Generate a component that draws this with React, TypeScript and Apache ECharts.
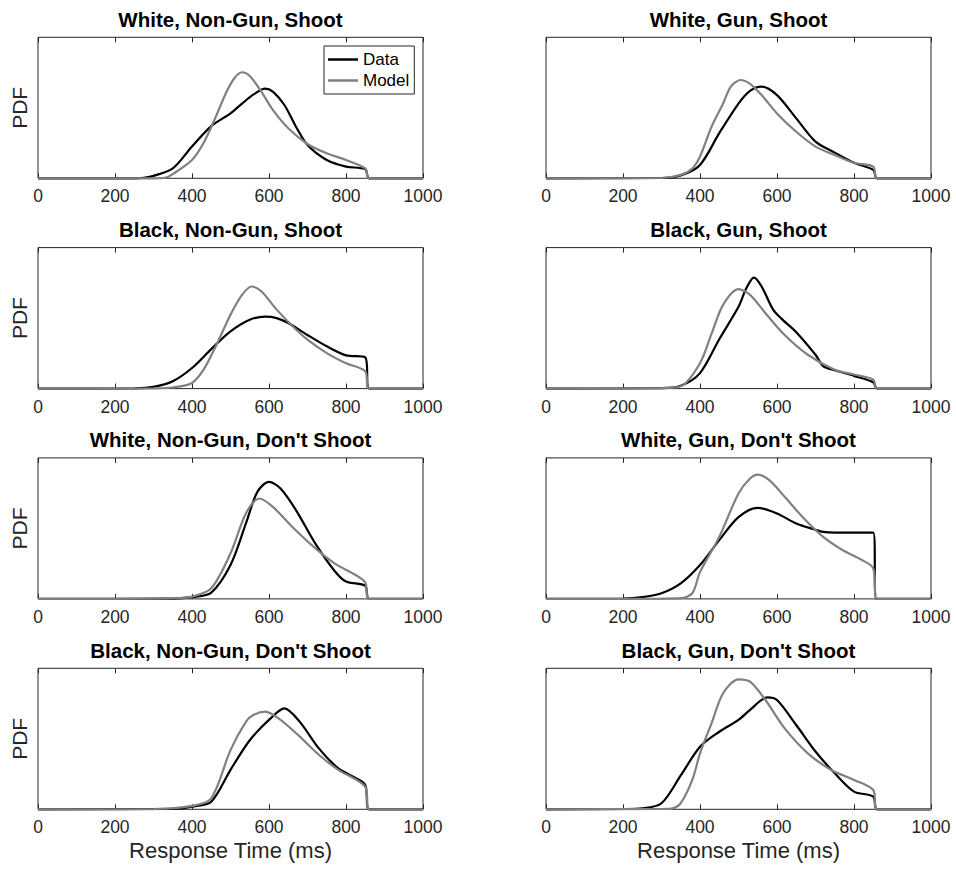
import React, { useEffect, useRef } from "react";
import * as echarts from "echarts";

type Pt = [number, number];

const FONT = "'Liberation Sans', Arial, Helvetica, sans-serif";

const xTicks = [0, 200, 400, 600, 800, 1000];
const legendNames = ["Data", "Model"];
const panelTitles = [
  "White, Non-Gun, Shoot",
  "White, Gun, Shoot",
  "Black, Non-Gun, Shoot",
  "Black, Gun, Shoot",
  "White, Non-Gun, Don't Shoot",
  "White, Gun, Don't Shoot",
  "Black, Non-Gun, Don't Shoot",
  "Black, Gun, Don't Shoot",
];

// PDF values (relative units, axis 0..1), response time in ms
const wnsData: Pt[] = [[0, 0], [250, 0], [275, 0.004], [300, 0.017], [350, 0.07], [400, 0.225], [450, 0.37], [500, 0.46], [530, 0.53], [560, 0.595], [590, 0.636], [610, 0.615], [640, 0.52], [670, 0.366], [700, 0.236], [750, 0.13], [800, 0.083], [850, 0.064], [860, 0], [1000, 0]];
const wnsModel: Pt[] = [[0, 0], [300, 0], [330, 0.004], [350, 0.03], [400, 0.13], [430, 0.25], [460, 0.425], [490, 0.615], [510, 0.71], [530, 0.752], [550, 0.726], [580, 0.615], [610, 0.485], [650, 0.355], [700, 0.243], [750, 0.177], [800, 0.13], [850, 0.07], [860, 0], [1000, 0]];

const wgsData: Pt[] = [[0, 0], [300, 0.002], [350, 0.02], [400, 0.095], [450, 0.32], [500, 0.53], [530, 0.62], [560, 0.65], [600, 0.59], [650, 0.425], [700, 0.26], [750, 0.182], [800, 0.11], [850, 0.06], [860, 0], [1000, 0]];
const wgsModel: Pt[] = [[0, 0], [300, 0.002], [350, 0.024], [380, 0.07], [400, 0.155], [430, 0.366], [460, 0.53], [480, 0.65], [505, 0.697], [530, 0.67], [560, 0.59], [600, 0.46], [650, 0.33], [700, 0.225], [750, 0.165], [800, 0.11], [850, 0.083], [860, 0], [1000, 0]];

const bnsData: Pt[] = [[0, 0], [250, 0.002], [300, 0.012], [350, 0.052], [400, 0.146], [450, 0.28], [500, 0.405], [550, 0.488], [590, 0.51], [620, 0.5], [650, 0.465], [700, 0.38], [750, 0.3], [800, 0.236], [850, 0.222], [860, 0], [1000, 0]];
const bnsModel: Pt[] = [[0, 0], [300, 0.002], [350, 0.008], [400, 0.04], [430, 0.134], [460, 0.29], [500, 0.524], [530, 0.665], [555, 0.724], [580, 0.69], [620, 0.56], [660, 0.446], [700, 0.347], [750, 0.252], [800, 0.18], [850, 0.123], [860, 0], [1000, 0]];

const bgsData: Pt[] = [[0, 0], [300, 0.003], [350, 0.02], [400, 0.11], [450, 0.35], [500, 0.58], [520, 0.71], [540, 0.787], [560, 0.724], [590, 0.56], [610, 0.5], [650, 0.4], [700, 0.24], [720, 0.16], [750, 0.13], [800, 0.09], [850, 0.045], [860, 0], [1000, 0]];
const bgsModel: Pt[] = [[0, 0], [300, 0.003], [350, 0.016], [400, 0.18], [430, 0.39], [460, 0.594], [500, 0.705], [530, 0.665], [570, 0.535], [620, 0.38], [680, 0.24], [750, 0.134], [800, 0.1], [850, 0.064], [860, 0], [1000, 0]];

const wndsData: Pt[] = [[0, 0], [350, 0.002], [400, 0.012], [450, 0.045], [500, 0.24], [540, 0.535], [570, 0.76], [600, 0.83], [630, 0.783], [670, 0.63], [720, 0.394], [770, 0.2], [800, 0.123], [850, 0.092], [860, 0], [1000, 0]];
const wndsModel: Pt[] = [[0, 0], [300, 0.002], [350, 0.005], [400, 0.016], [450, 0.075], [500, 0.323], [540, 0.606], [575, 0.712], [610, 0.653], [660, 0.512], [720, 0.36], [770, 0.252], [820, 0.177], [850, 0.116], [860, 0], [1000, 0]];

const wgdsData: Pt[] = [[0, 0], [200, 0.002], [250, 0.012], [300, 0.04], [350, 0.11], [400, 0.24], [450, 0.417], [500, 0.58], [550, 0.646], [600, 0.606], [650, 0.535], [700, 0.49], [720, 0.475], [750, 0.47], [800, 0.47], [850, 0.47], [858, 0], [1000, 0]];
const wgdsModel: Pt[] = [[0, 0], [300, 0.002], [350, 0.005], [380, 0.04], [400, 0.19], [450, 0.44], [500, 0.748], [530, 0.854], [550, 0.882], [580, 0.842], [620, 0.724], [670, 0.57], [720, 0.44], [770, 0.347], [820, 0.277], [850, 0.217], [860, 0], [1000, 0]];

const bndsData: Pt[] = [[0, 0], [350, 0.003], [400, 0.019], [450, 0.054], [500, 0.28], [550, 0.49], [600, 0.634], [640, 0.716], [680, 0.62], [730, 0.43], [780, 0.29], [820, 0.23], [850, 0.173], [860, 0], [1000, 0]];
const bndsModel: Pt[] = [[0, 0], [300, 0.002], [400, 0.024], [450, 0.078], [500, 0.42], [540, 0.62], [560, 0.67], [590, 0.693], [630, 0.634], [680, 0.515], [730, 0.385], [780, 0.28], [850, 0.16], [860, 0], [1000, 0]];

const bgdsData: Pt[] = [[0, 0], [200, 0.002], [250, 0.007], [300, 0.043], [350, 0.24], [400, 0.444], [450, 0.55], [500, 0.634], [530, 0.705], [575, 0.794], [600, 0.775], [650, 0.598], [700, 0.41], [750, 0.255], [800, 0.125], [850, 0.09], [860, 0], [1000, 0]];
const bgdsModel: Pt[] = [[0, 0], [300, 0.002], [330, 0.007], [350, 0.043], [380, 0.208], [400, 0.397], [430, 0.61], [460, 0.823], [500, 0.922], [530, 0.905], [570, 0.775], [620, 0.574], [680, 0.397], [740, 0.28], [800, 0.208], [850, 0.137], [860, 0], [1000, 0]];

const panelData: Pt[][] = [wnsData, wgsData, bnsData, bgsData, wndsData, wgdsData, bndsData, bgdsData];
const panelModel: Pt[][] = [wnsModel, wgsModel, bnsModel, bgsModel, wndsModel, wgdsModel, bndsModel, bgdsModel];

const GRID_LEFT = [38, 546];
const GRID_TOP = [37.3, 247.6, 457.9, 668.3];
const GRID_W = 385;
const GRID_H = 141;
const AXIS_COLOR = "#262626";

function buildOption() {
  const grid: any[] = [];
  const xAxis: any[] = [];
  const yAxis: any[] = [];
  const series: any[] = [];
  const title: any[] = [];

  panelTitles.forEach((t, i) => {
    const col = i % 2;
    const row = Math.floor(i / 2);
    const left = GRID_LEFT[col];
    const top = GRID_TOP[row];
    grid.push({
      left,
      top,
      width: GRID_W,
      height: GRID_H,
      show: true,
      borderColor: AXIS_COLOR,
      borderWidth: 1,
      backgroundColor: "#fff",
      containLabel: false,
    });
    title.push({
      text: t,
      left: left + GRID_W / 2,
      top: top - 29,
      textAlign: "center",
      padding: 0,
      textStyle: { fontFamily: FONT, fontSize: 20.5, fontWeight: "bold", color: "#000", lineHeight: 22 },
    });
    const isBottom = row === 3;
    xAxis.push({
      type: "value",
      gridIndex: i,
      position: "bottom",
      min: 0,
      max: 1000,
      interval: 200,
      axisLine: { show: false },
      axisTick: { show: true, inside: true, length: 5, lineStyle: { color: AXIS_COLOR, width: 1 } },
      axisLabel: {
        show: true,
        margin: 9,
        color: AXIS_COLOR,
        fontFamily: FONT,
        fontSize: 17.5,
        formatter: (v: number) => String(v),
      },
      splitLine: { show: false },
      name: isBottom ? "Response Time (ms)" : "",
      nameLocation: "middle",
      nameGap: 30,
      nameTextStyle: { fontFamily: FONT, fontSize: 22, color: AXIS_COLOR },
    });
    xAxis.push({
      type: "value",
      gridIndex: i,
      position: "top",
      min: 0,
      max: 1000,
      interval: 200,
      axisLine: { show: false },
      axisTick: { show: true, inside: true, length: 5, lineStyle: { color: AXIS_COLOR, width: 1 } },
      axisLabel: { show: false },
      splitLine: { show: false },
    });
    yAxis.push({
      type: "value",
      gridIndex: i,
      min: 0,
      max: 1,
      axisLine: { show: false },
      axisTick: { show: false },
      axisLabel: { show: false },
      splitLine: { show: false },
      name: col === 0 ? "PDF" : "",
      nameLocation: "middle",
      nameRotate: 90,
      nameGap: 8,
      nameTextStyle: { fontFamily: FONT, fontSize: 21, color: AXIS_COLOR },
    });
    series.push({
      name: legendNames[0],
      type: "line",
      xAxisIndex: i * 2,
      yAxisIndex: i,
      data: panelData[i],
      symbol: "none",
      smooth: 0.3,
      clip: false,
      lineStyle: { color: "#000000", width: 2.2 },
      itemStyle: { color: "#000000" },
      z: 3,
    });
    series.push({
      name: legendNames[1],
      type: "line",
      xAxisIndex: i * 2,
      yAxisIndex: i,
      data: panelModel[i],
      symbol: "none",
      smooth: 0.3,
      clip: false,
      lineStyle: { color: "#808080", width: 2.2 },
      itemStyle: { color: "#808080" },
      z: 4,
    });
  });

  return {
    animation: false,
    backgroundColor: "#fff",
    title,
    grid,
    xAxis,
    yAxis,
    series,
    legend: {
      show: true,
      data: legendNames.map((n) => ({ name: n, icon: "rect" })),
      orient: "vertical",
      left: 324,
      top: 46,
      padding: [5, 5, 5, 4],
      itemWidth: 30,
      itemHeight: 2.5,
      itemGap: 4,
      borderColor: AXIS_COLOR,
      borderWidth: 1,
      backgroundColor: "#fff",
      selectedMode: false,
      textStyle: { fontFamily: FONT, fontSize: 17, color: "#000", lineHeight: 17 },
      z: 10,
    },
  };
}

export default function App() {
  const ref = useRef<HTMLDivElement>(null);
  useEffect(() => {
    if (!ref.current) return;
    const chart = echarts.init(ref.current, undefined, { renderer: "svg" });
    chart.setOption(buildOption() as any);
    return () => chart.dispose();
  }, []);
  return (
    <div
      ref={ref}
      style={{ position: "fixed", left: 0, top: 0, width: 956, height: 871, background: "#fff" }}
    />
  );
}
